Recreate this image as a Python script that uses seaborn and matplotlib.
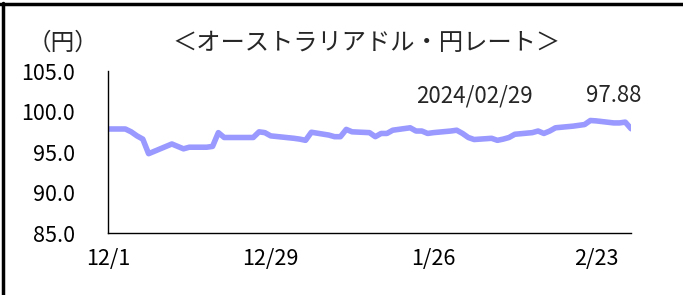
import matplotlib
matplotlib.use("Agg")
import matplotlib.pyplot as plt
import matplotlib.lines as mlines
import pandas as pd
import seaborn as sns

# AUD/JPY daily rate
dates = [
    "2023-12-01", "2023-12-04", "2023-12-05", "2023-12-06", "2023-12-07", "2023-12-08",
    "2023-12-11", "2023-12-12", "2023-12-13", "2023-12-14", "2023-12-15",
    "2023-12-18", "2023-12-19", "2023-12-20", "2023-12-21", "2023-12-22",
    "2023-12-25", "2023-12-26", "2023-12-27", "2023-12-28", "2023-12-29",
    "2024-01-02", "2024-01-03", "2024-01-04", "2024-01-05",
    "2024-01-08", "2024-01-09", "2024-01-10", "2024-01-11", "2024-01-12",
    "2024-01-15", "2024-01-16", "2024-01-17", "2024-01-18", "2024-01-19",
    "2024-01-22", "2024-01-23", "2024-01-24", "2024-01-25", "2024-01-26",
    "2024-01-29", "2024-01-30", "2024-01-31", "2024-02-01", "2024-02-02",
    "2024-02-05", "2024-02-06", "2024-02-07", "2024-02-08", "2024-02-09",
    "2024-02-12", "2024-02-13", "2024-02-14", "2024-02-15", "2024-02-16",
    "2024-02-19", "2024-02-20", "2024-02-21", "2024-02-22", "2024-02-23",
    "2024-02-26", "2024-02-27", "2024-02-28", "2024-02-29",
]
rates = [
    97.85, 97.85, 97.5, 97.0, 96.6, 94.8,
    95.7, 96.0, 95.7, 95.4, 95.6,
    95.6, 95.7, 97.4, 96.8, 96.8,
    96.8, 96.8, 97.5, 97.4, 97.0,
    96.7, 96.6, 96.45, 97.45,
    97.1, 96.9, 96.9, 97.8, 97.5,
    97.4, 96.9, 97.3, 97.3, 97.7,
    98.0, 97.6, 97.6, 97.3, 97.4,
    97.6, 97.7, 97.3, 96.8, 96.55,
    96.7, 96.45, 96.6, 96.8, 97.2,
    97.4, 97.6, 97.3, 97.6, 98.0,
    98.2, 98.3, 98.4, 98.9, 98.85,
    98.6, 98.6, 98.7, 97.88,
]
tick_dates = ["2023-12-01", "2023-12-29", "2024-01-26", "2024-02-23"]
tick_labels = ["12/1", "12/29", "1/26", "2/23"]
y_ticks = [85, 90, 95, 100, 105]
last_label = "2024/02/29"

df = pd.DataFrame({"date": pd.to_datetime(dates), "rate": rates})

sns.set_style("white")
plt.rcParams["font.family"] = ["Noto Sans CJK JP", "DejaVu Sans"]

fig = plt.figure(figsize=(6.83, 2.95), dpi=100)
ax = fig.add_axes([0.158, 0.21, 0.766, 0.549])

sns.lineplot(data=df, x="date", y="rate", ax=ax, color="#9999ff", linewidth=4.0)

ax.set_xlim(pd.Timestamp("2023-12-01"), pd.Timestamp("2024-02-29"))
ax.set_ylim(85, 105)
ax.set_yticks(y_ticks)
ax.set_yticklabels([f"{v:.1f}" for v in y_ticks])
ax.set_xticks(pd.to_datetime(tick_dates))
ax.set_xticklabels(tick_labels)
ax.set_xlabel("")
ax.set_ylabel("")
ax.tick_params(direction="in", length=5, width=0.8, colors="black",
               labelsize=15.5)
ax.tick_params(axis="x", pad=11)
ax.tick_params(axis="y", pad=24)
for lab in ax.get_yticklabels():
    lab.set_horizontalalignment("right")
sns.despine(ax=ax)
for s in ["left", "bottom"]:
    ax.spines[s].set_color("black")
    ax.spines[s].set_linewidth(1.0)

fig.text(0.093, 0.855, "（円）", fontsize=17, ha="center", va="center")
fig.text(0.537, 0.855, "＜オーストラリアドル・円レート＞", fontsize=17.5,
         ha="center", va="center")
fig.text(0.695, 0.675, last_label, fontsize=16, ha="center", va="center")
fig.text(0.899, 0.675, f"{rates[-1]:.2f}", fontsize=16, ha="center", va="center")

# frame lines along the top and left edge
fig.add_artist(mlines.Line2D([0.004, 0.004], [0, 0.99], color="black", linewidth=2.5))
fig.add_artist(mlines.Line2D([0.0, 1.0], [0.988, 0.988], color="black", linewidth=2.5))

fig.savefig("out.png", dpi=100)
